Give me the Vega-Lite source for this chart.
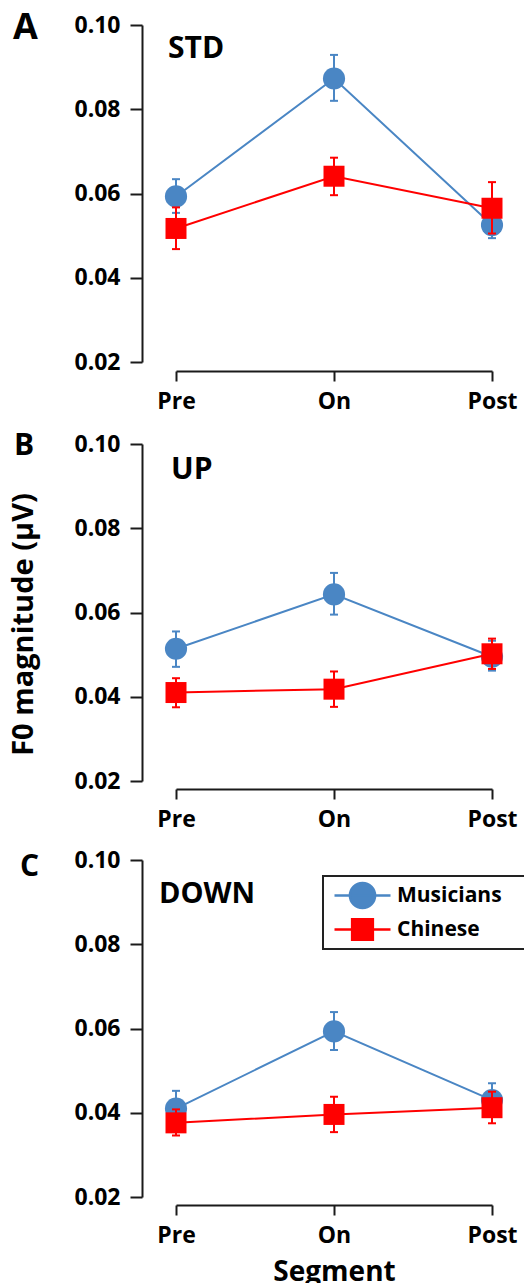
{
  "$schema": "https://vega.github.io/schema/vega-lite/v6.json",
  "padding": {"left": 9, "top": 10, "right": 0, "bottom": 0},
  "spacing": 18,
  "data": {"values": [
    {"panel": "A", "segment": "Pre", "group": "Musicians", "mean": 0.0593, "lo": 0.0554, "hi": 0.0634},
    {"panel": "A", "segment": "On", "group": "Musicians", "mean": 0.0873, "lo": 0.0820, "hi": 0.0929},
    {"panel": "A", "segment": "Post", "group": "Musicians", "mean": 0.0525, "lo": 0.0494, "hi": 0.0556},
    {"panel": "A", "segment": "Pre", "group": "Chinese", "mean": 0.0517, "lo": 0.0468, "hi": 0.0567},
    {"panel": "A", "segment": "On", "group": "Chinese", "mean": 0.0641, "lo": 0.0596, "hi": 0.0685},
    {"panel": "A", "segment": "Post", "group": "Chinese", "mean": 0.0565, "lo": 0.0505, "hi": 0.0627},
    {"panel": "B", "segment": "Pre", "group": "Musicians", "mean": 0.0514, "lo": 0.0471, "hi": 0.0555},
    {"panel": "B", "segment": "On", "group": "Musicians", "mean": 0.0643, "lo": 0.0595, "hi": 0.0694},
    {"panel": "B", "segment": "Post", "group": "Musicians", "mean": 0.0495, "lo": 0.0462, "hi": 0.0533},
    {"panel": "B", "segment": "Pre", "group": "Chinese", "mean": 0.0410, "lo": 0.0375, "hi": 0.0444},
    {"panel": "B", "segment": "On", "group": "Chinese", "mean": 0.0418, "lo": 0.0376, "hi": 0.0460},
    {"panel": "B", "segment": "Post", "group": "Chinese", "mean": 0.0502, "lo": 0.0466, "hi": 0.0538},
    {"panel": "C", "segment": "Pre", "group": "Musicians", "mean": 0.0410, "lo": 0.0370, "hi": 0.0452},
    {"panel": "C", "segment": "On", "group": "Musicians", "mean": 0.0593, "lo": 0.0549, "hi": 0.0639},
    {"panel": "C", "segment": "Post", "group": "Musicians", "mean": 0.0430, "lo": 0.0392, "hi": 0.0470},
    {"panel": "C", "segment": "Pre", "group": "Chinese", "mean": 0.0376, "lo": 0.0346, "hi": 0.0408},
    {"panel": "C", "segment": "On", "group": "Chinese", "mean": 0.0396, "lo": 0.0354, "hi": 0.0438},
    {"panel": "C", "segment": "Post", "group": "Chinese", "mean": 0.0412, "lo": 0.0375, "hi": 0.0450}
  ]},
  "resolve": {"legend": {"color": "independent"}, "scale": {"color": "independent"}},
  "vconcat": [
    {
      "width": 316, "height": 337,
      "encoding": {
        "x": {"field": "segment", "type": "nominal", "sort": ["Pre", "On", "Post"], "scale": {"type": "point", "padding": 0}, "axis": {"offset": 9, "tickSize": 10, "labelPadding": 9, "labelAngle": 0, "title": null}},
        "y": {"field": "mean", "type": "quantitative", "scale": {"domain": [0.02, 0.1], "nice": false, "zero": false}, "axis": {"values": [0.02, 0.04, 0.06, 0.08, 0.1], "format": ".2f", "offset": 34, "tickSize": 12, "labelPadding": 10, "title": null}}
      },
      "layer": [
        {
          "transform": [{"filter": "datum.panel === 'A' && datum.group === 'Musicians'"}],
          "layer": [
            {"mark": {"type": "line", "color": "#4a86c4", "strokeWidth": 2}},
            {"mark": {"type": "rule", "color": "#4a86c4", "strokeWidth": 2}, "encoding": {"y": {"field": "lo", "type": "quantitative"}, "y2": {"field": "hi"}}},
            {"mark": {"type": "tick", "color": "#4a86c4", "thickness": 2, "size": 8, "opacity": 1}, "encoding": {"y": {"field": "hi", "type": "quantitative"}}},
            {"mark": {"type": "tick", "color": "#4a86c4", "thickness": 2, "size": 8, "opacity": 1}, "encoding": {"y": {"field": "lo", "type": "quantitative"}}},
            {"mark": {"type": "point", "shape": "circle", "filled": true, "size": 491, "color": "#4a86c4", "opacity": 1}}
          ]
        },
        {
          "transform": [{"filter": "datum.panel === 'A' && datum.group === 'Chinese'"}],
          "layer": [
            {"mark": {"type": "line", "color": "#ff0000", "strokeWidth": 2}},
            {"mark": {"type": "rule", "color": "#ff0000", "strokeWidth": 2}, "encoding": {"y": {"field": "lo", "type": "quantitative"}, "y2": {"field": "hi"}}},
            {"mark": {"type": "tick", "color": "#ff0000", "thickness": 2, "size": 8, "opacity": 1}, "encoding": {"y": {"field": "hi", "type": "quantitative"}}},
            {"mark": {"type": "tick", "color": "#ff0000", "thickness": 2, "size": 8, "opacity": 1}, "encoding": {"y": {"field": "lo", "type": "quantitative"}}},
            {"mark": {"type": "point", "shape": "square", "filled": true, "size": 441, "color": "#ff0000", "opacity": 1}}
          ]
        },
        {
          "transform": [{"filter": "datum.panel === 'A' && datum.group === 'Musicians' && datum.segment === 'Pre'"}],
          "mark": {"type": "text", "text": "STD", "align": "left", "baseline": "alphabetic", "fontSize": 30, "fontWeight": "bold", "dx": -8, "color": "black"},
          "encoding": {"y": {"datum": 0.0921}}
        },
        {
          "transform": [{"filter": "datum.panel === 'A' && datum.group === 'Musicians' && datum.segment === 'Pre'"}],
          "mark": {"type": "text", "text": "A", "align": "left", "baseline": "alphabetic", "fontSize": 36, "fontWeight": "bold", "dx": -163, "dy": 14, "color": "black"},
          "encoding": {"y": {"datum": 0.1}}
        }
      ]
    },
    {
      "width": 316, "height": 337,
      "encoding": {
        "x": {"field": "segment", "type": "nominal", "sort": ["Pre", "On", "Post"], "scale": {"type": "point", "padding": 0}, "axis": {"offset": 8, "tickSize": 10, "labelPadding": 9, "labelAngle": 0, "title": null}},
        "y": {"field": "mean", "type": "quantitative", "scale": {"domain": [0.02, 0.1], "nice": false, "zero": false}, "axis": {"values": [0.02, 0.04, 0.06, 0.08, 0.1], "format": ".2f", "offset": 34, "tickSize": 12, "labelPadding": 10, "title": "F0 magnitude (µV)", "titlePadding": 35, "titleY": 180, "titleFontSize": 29}}
      },
      "layer": [
        {
          "transform": [{"filter": "datum.panel === 'B' && datum.group === 'Musicians'"}],
          "layer": [
            {"mark": {"type": "line", "color": "#4a86c4", "strokeWidth": 2}},
            {"mark": {"type": "rule", "color": "#4a86c4", "strokeWidth": 2}, "encoding": {"y": {"field": "lo", "type": "quantitative"}, "y2": {"field": "hi"}}},
            {"mark": {"type": "tick", "color": "#4a86c4", "thickness": 2, "size": 8, "opacity": 1}, "encoding": {"y": {"field": "hi", "type": "quantitative"}}},
            {"mark": {"type": "tick", "color": "#4a86c4", "thickness": 2, "size": 8, "opacity": 1}, "encoding": {"y": {"field": "lo", "type": "quantitative"}}},
            {"mark": {"type": "point", "shape": "circle", "filled": true, "size": 491, "color": "#4a86c4", "opacity": 1}}
          ]
        },
        {
          "transform": [{"filter": "datum.panel === 'B' && datum.group === 'Chinese'"}],
          "layer": [
            {"mark": {"type": "line", "color": "#ff0000", "strokeWidth": 2}},
            {"mark": {"type": "rule", "color": "#ff0000", "strokeWidth": 2}, "encoding": {"y": {"field": "lo", "type": "quantitative"}, "y2": {"field": "hi"}}},
            {"mark": {"type": "tick", "color": "#ff0000", "thickness": 2, "size": 8, "opacity": 1}, "encoding": {"y": {"field": "hi", "type": "quantitative"}}},
            {"mark": {"type": "tick", "color": "#ff0000", "thickness": 2, "size": 8, "opacity": 1}, "encoding": {"y": {"field": "lo", "type": "quantitative"}}},
            {"mark": {"type": "point", "shape": "square", "filled": true, "size": 441, "color": "#ff0000", "opacity": 1}}
          ]
        },
        {
          "transform": [{"filter": "datum.panel === 'B' && datum.group === 'Musicians' && datum.segment === 'Pre'"}],
          "mark": {"type": "text", "text": "UP", "align": "left", "baseline": "alphabetic", "fontSize": 30, "fontWeight": "bold", "dx": -5, "color": "black"},
          "encoding": {"y": {"datum": 0.0916}}
        },
        {
          "transform": [{"filter": "datum.panel === 'B' && datum.group === 'Musicians' && datum.segment === 'Pre'"}],
          "mark": {"type": "text", "text": "B", "align": "left", "baseline": "alphabetic", "fontSize": 30, "fontWeight": "bold", "dx": -162, "dy": 11, "color": "black"},
          "encoding": {"y": {"datum": 0.1}}
        }
      ]
    },
    {
      "width": 316, "height": 337,
      "encoding": {
        "x": {"field": "segment", "type": "nominal", "sort": ["Pre", "On", "Post"], "scale": {"type": "point", "padding": 0}, "axis": {"offset": 8, "tickSize": 10, "labelPadding": 9, "labelAngle": 0, "title": "Segment", "titlePadding": 11, "titleFontSize": 28}},
        "y": {"field": "mean", "type": "quantitative", "scale": {"domain": [0.02, 0.1], "nice": false, "zero": false}, "axis": {"values": [0.02, 0.04, 0.06, 0.08, 0.1], "format": ".2f", "offset": 34, "tickSize": 12, "labelPadding": 10, "title": null}}
      },
      "layer": [
        {
          "transform": [{"filter": "datum.panel === 'C' && datum.group === 'Musicians'"}],
          "layer": [
            {
              "mark": {"type": "line", "strokeWidth": 2},
              "encoding": {
                "color": {
                  "field": "group", "type": "nominal",
                  "scale": {"domain": ["Musicians", "Chinese"], "range": ["#4a86c4", "#ff0000"]},
                  "legend": {
                    "orient": "none", "legendX": 147, "legendY": 16, "title": null,
                    "strokeColor": "#222222", "padding": 4,
                    "labelFont": "Open Sans", "labelFontSize": 21, "labelFontWeight": "bold", "labelColor": "black", "labelOffset": 19,
                    "symbolSize": 784, "symbolOffset": 20, "symbolStrokeWidth": 2.5, "rowPadding": -3,
                    "encode": {
                      "symbols": {"update": {
                        "shape": {"signal": "datum.value === 'Musicians' ? 'M-2,0H2M0.9,0A0.9,0.9,0,1,1,-0.9,0A0.9,0.9,0,1,1,0.9,0ZM12,0' : 'M-2,0H2M-0.74,-0.74H0.74V0.74H-0.74ZM12,0'"},
                        "fill": {"signal": "datum.value === 'Musicians' ? '#4a86c4' : '#ff0000'"},
                        "stroke": {"signal": "datum.value === 'Musicians' ? '#4a86c4' : '#ff0000'"},
                        "fillOpacity": {"value": 1},
                        "opacity": {"value": 1},
                        "strokeWidth": {"value": 2.5},
                        "size": {"value": 784}
                      }},
                      "legend": {"update": {"strokeWidth": {"value": 2}}}
                    }
                  }
                }
              }
            },
            {"mark": {"type": "rule", "color": "#4a86c4", "strokeWidth": 2}, "encoding": {"y": {"field": "lo", "type": "quantitative"}, "y2": {"field": "hi"}}},
            {"mark": {"type": "tick", "color": "#4a86c4", "thickness": 2, "size": 8, "opacity": 1}, "encoding": {"y": {"field": "hi", "type": "quantitative"}}},
            {"mark": {"type": "tick", "color": "#4a86c4", "thickness": 2, "size": 8, "opacity": 1}, "encoding": {"y": {"field": "lo", "type": "quantitative"}}},
            {"mark": {"type": "point", "shape": "circle", "filled": true, "size": 491, "color": "#4a86c4", "opacity": 1}}
          ]
        },
        {
          "transform": [{"filter": "datum.panel === 'C' && datum.group === 'Chinese'"}],
          "layer": [
            {"mark": {"type": "line", "color": "#ff0000", "strokeWidth": 2}},
            {"mark": {"type": "rule", "color": "#ff0000", "strokeWidth": 2}, "encoding": {"y": {"field": "lo", "type": "quantitative"}, "y2": {"field": "hi"}}},
            {"mark": {"type": "tick", "color": "#ff0000", "thickness": 2, "size": 8, "opacity": 1}, "encoding": {"y": {"field": "hi", "type": "quantitative"}}},
            {"mark": {"type": "tick", "color": "#ff0000", "thickness": 2, "size": 8, "opacity": 1}, "encoding": {"y": {"field": "lo", "type": "quantitative"}}},
            {"mark": {"type": "point", "shape": "square", "filled": true, "size": 441, "color": "#ff0000", "opacity": 1}}
          ]
        },
        {
          "transform": [{"filter": "datum.panel === 'C' && datum.group === 'Musicians' && datum.segment === 'Pre'"}],
          "mark": {"type": "text", "text": "DOWN", "align": "left", "baseline": "alphabetic", "fontSize": 29, "fontWeight": "bold", "dx": -17, "color": "black"},
          "encoding": {"y": {"datum": 0.0897}}
        },
        {
          "transform": [{"filter": "datum.panel === 'C' && datum.group === 'Musicians' && datum.segment === 'Pre'"}],
          "mark": {"type": "text", "text": "C", "align": "left", "baseline": "alphabetic", "fontSize": 30, "fontWeight": "bold", "dx": -156, "dy": 16, "color": "black"},
          "encoding": {"y": {"datum": 0.1}}
        }
      ]
    }
  ],
  "config": {
    "font": "Open Sans",
    "view": {"stroke": null},
    "axis": {
      "domainColor": "#1a1a1a", "domainWidth": 2, "tickColor": "#1a1a1a", "tickWidth": 2,
      "labelFont": "Open Sans", "labelFontWeight": "bold", "labelFontSize": 23, "labelColor": "black",
      "titleFont": "Open Sans", "titleFontWeight": "bold", "titleFontSize": 24, "titleColor": "black",
      "grid": false
    }
  }
}
